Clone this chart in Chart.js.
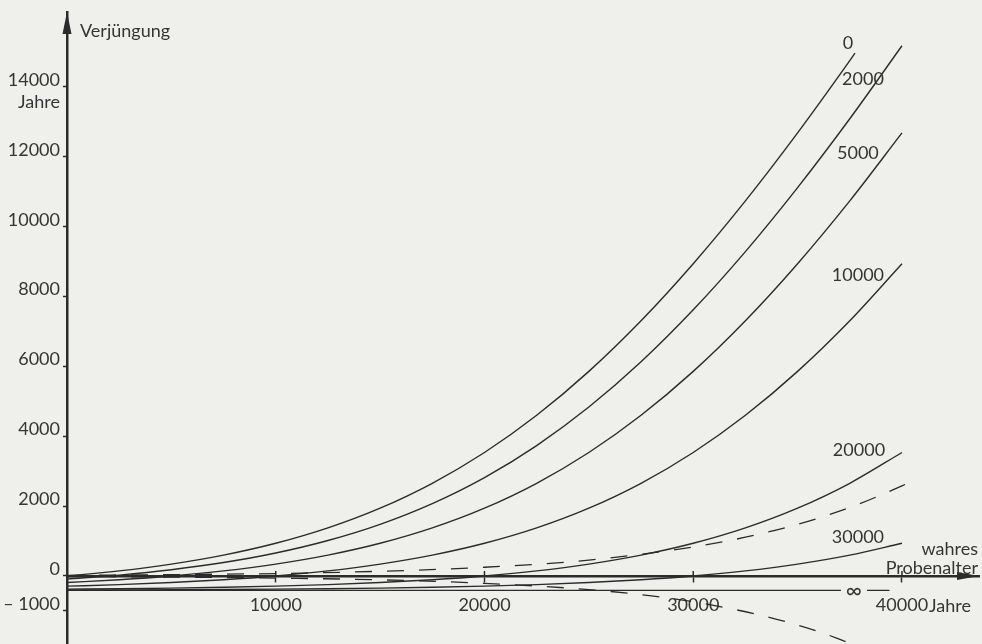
<!DOCTYPE html>
<html><head><meta charset="utf-8">
<script src="https://cdn.jsdelivr.net/npm/chart.js@4.4.1/dist/chart.umd.min.js"></script>
<style>
html,body{margin:0;padding:0;background:#efefec;}
#wrap{width:982px;height:644px;position:relative;}
</style></head><body>
<div id="wrap"><canvas id="c"></canvas></div>
<script>
// true sample age (years)
const ageGrid = [0,2500,5000,7500,10000,12500,15000,17500,20000,22500,25000,27500,30000,32500,35000,37500,40000];
const ageGridTop = [0,2500,5000,7500,10000,12500,15000,17500,20000,22500,25000,27500,30000,32500,35000,37500,37750];
// rejuvenation (years) for contaminant ages 0, 2000, 5000, 10000, 20000, 30000, infinite
const rej0     = [0,145,340,597,936,1377,1942,2655,3536,4601,5858,7307,8941,10739,12685,14753,14967];
const rej2000  = [-89,26,180,385,658,1016,1479,2072,2817,3734,4836,6132,7620,9287,11119,13090,15180];
const rej5000  = [-188,-108,0,145,340,597,936,1377,1942,2655,3536,4601,5858,7307,8941,10739,12685];
const rej10000 = [-291,-248,-188,-108,0,145,340,597,936,1377,1942,2655,3536,4601,5858,7307,8941];
const rej20000 = [-377,-364,-347,-323,-291,-248,-188,-108,0,145,340,597,936,1377,1942,2655,3536];
const rej30000 = [-402,-398,-393,-386,-377,-364,-347,-323,-291,-248,-188,-108,0,145,340,597,936];
const infAges  = [0,39400];
const rejInf   = [-412,-412];
// dashed limits
const upperAges = [0,5000,10000,15000,20000,25000,30000,32500,35000,37500,40000,40800];
const upperVals = [20,40,70,135,250,455,830,1110,1480,1960,2580,2800];
const lowerAges = [0,5000,10000,15000,20000,25000,28000,30000,32000,34000,36000,37400];
const lowerVals = [-15,-30,-60,-110,-210,-390,-570,-740,-960,-1240,-1590,-1900];
// ticks
const yTicks = [-1000,0,2000,4000,6000,8000,10000,12000,14000];
const xTicks = [10000,20000,30000,40000];
const curveNames = ['0','2000','5000','10000','20000','30000','\u221E'];

const ink = '#2b2b2b';
const txt = '#353535';
const FONT = 'Lato, "Open Sans", sans-serif';

// label anchor positions (data units) for curve names
const labelPos = [
  {x:37410, y:15260}, {x:38130, y:14230}, {x:37890, y:12110}, {x:37890, y:8620},
  {x:37940, y:3610}, {x:37890, y:1120}, {x:37700, y:-412}
];

function pts(xs, ys){ return xs.map((v,i)=>({x:v, y:ys[i]})); }
function solid(data){ return {data, borderColor:ink, borderWidth:1.4, pointRadius:0, showLine:true, cubicInterpolationMode:'monotone', fill:false}; }
function dashed(data){ return {data, borderColor:ink, borderWidth:1.3, pointRadius:0, showLine:true, borderDash:[17,15], cubicInterpolationMode:'monotone', fill:false}; }
function noPad(s){ s.paddingTop = 0; s.paddingBottom = 0; s.paddingLeft = 0; s.paddingRight = 0; }

const deco = {
  id:'deco',
  afterDraw(chart){
    const {ctx, chartArea:a, scales:{x, y}} = chart;
    ctx.save();
    ctx.fillStyle = ink;
    ctx.strokeStyle = ink;
    // y arrow
    ctx.beginPath();
    ctx.moveTo(a.left, a.top);
    ctx.lineTo(a.left-4.5, a.top+22);
    ctx.lineTo(a.left+4.5, a.top+22);
    ctx.closePath(); ctx.fill();
    // x arrow
    const y0 = y.getPixelForValue(0);
    ctx.beginPath();
    ctx.moveTo(a.right, y0);
    ctx.lineTo(a.right-22, y0-4);
    ctx.lineTo(a.right-22, y0+4);
    ctx.closePath(); ctx.fill();
    // upper part of x tick marks (crossing the axis)
    ctx.lineWidth = 1.5;
    xTicks.forEach(v=>{
      const px = x.getPixelForValue(v);
      ctx.beginPath(); ctx.moveTo(px, y0-5); ctx.lineTo(px, y0); ctx.stroke();
    });
    // curve labels
    ctx.font = '18px ' + FONT;
    ctx.textAlign = 'center'; ctx.textBaseline = 'middle';
    curveNames.forEach((n,i)=>{
      const px = x.getPixelForValue(labelPos[i].x), py = y.getPixelForValue(labelPos[i].y);
      if (n === '\u221E') {
        ctx.fillStyle = '#efefec';
        ctx.fillRect(px-13, py-4, 26, 8);
        ctx.fillStyle = txt;
        ctx.font = '22px ' + FONT;
        ctx.fillText(n, px, py+1);
        ctx.font = '18px ' + FONT;
      } else {
        ctx.fillStyle = txt;
        ctx.fillText(n, px, py);
      }
    });
    ctx.fillStyle = txt;
    // axis titles
    ctx.textAlign = 'left';
    ctx.fillText('Verj\u00FCngung', a.left+13, a.top+19);
    ctx.textAlign = 'right';
    ctx.fillText('Jahre', a.left-7, y.getPixelForValue(14000)+15);
    ctx.fillText('wahres', a.right-1, y0-27);
    ctx.fillText('Probenalter', a.right-1, y0-8);
    ctx.textAlign = 'left';
    ctx.fillText('Jahre', x.getPixelForValue(40000)+27, y0+30);
    ctx.restore();
  }
};

Chart.defaults.font.family = FONT;
Chart.defaults.font.size = 18;
Chart.defaults.color = txt;

new Chart(document.getElementById('c'), {
  type:'scatter',
  data:{ datasets:[
    solid(pts(ageGridTop, rej0)),
    solid(pts(ageGrid, rej2000)),
    solid(pts(ageGrid, rej5000)),
    solid(pts(ageGrid, rej10000)),
    solid(pts(ageGrid, rej20000)),
    solid(pts(ageGrid, rej30000)),
    solid(pts(infAges, rejInf)),
    dashed(pts(upperAges, upperVals)),
    dashed(pts(lowerAges, lowerVals))
  ]},
  options:{
    responsive:true, maintainAspectRatio:false, animation:false,
    layout:{padding:{top:12, right:3, bottom:0, left:0}},
    plugins:{legend:{display:false}, tooltip:{enabled:false}},
    scales:{
      x:{
        type:'linear', min:0, max:43690, position:{y:0},
        afterFit: noPad,
        afterBuildTicks(s){ s.ticks = xTicks.map(v=>({value:v})); },
        ticks:{ padding:13, maxRotation:0, callback:v=>String(v) },
        grid:{ drawOnChartArea:false, tickLength:5, color:ink, tickWidth:1.5 },
        border:{ color:ink, width:2.5 }
      },
      y:{
        type:'linear', min:-1947, max:16147, position:'left',
        afterFit(s){ s.width = 67; noPad(s); },
        afterBuildTicks(s){ s.ticks = yTicks.map(v=>({value:v})); },
        ticks:{ padding:3, labelOffset:-7, callback:v=> v<0 ? '\u2013 ' + Math.abs(v) : String(v) },
        grid:{ drawOnChartArea:false, tickLength:4, color:ink, tickWidth:1.5 },
        border:{ color:ink, width:2.5 }
      }
    }
  },
  plugins:[deco]
});
</script>
</body></html>
